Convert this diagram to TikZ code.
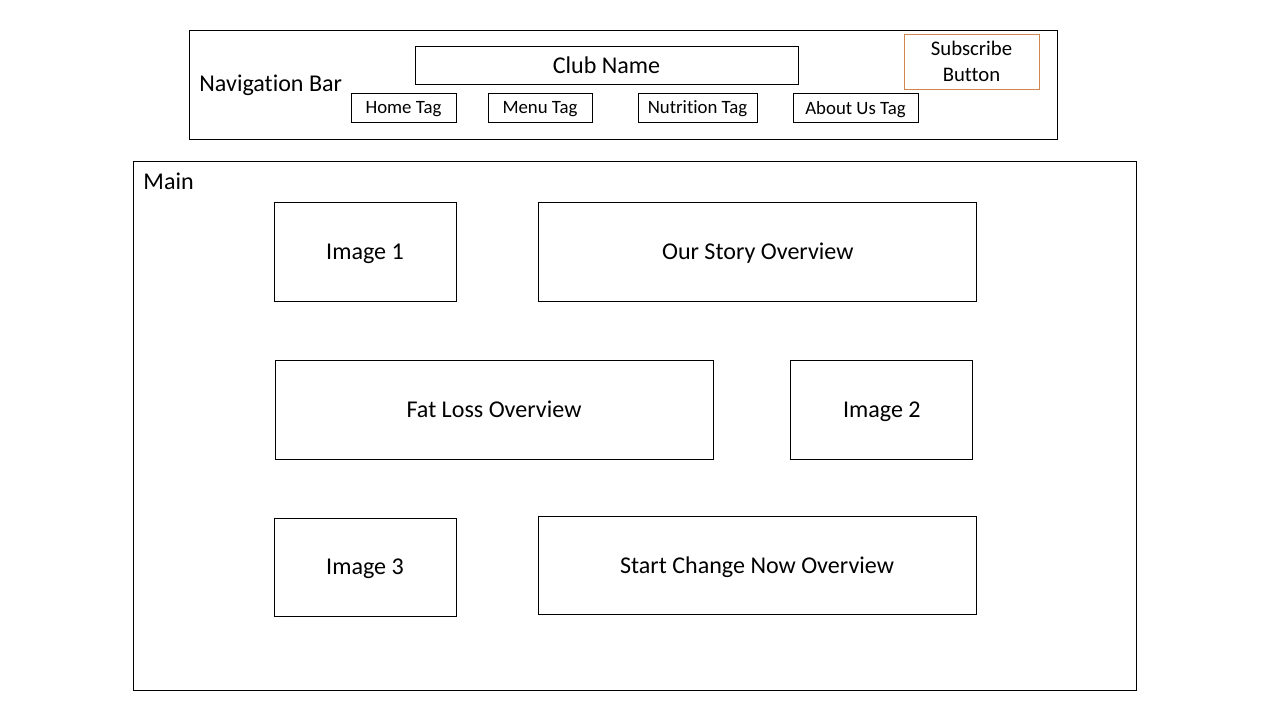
\documentclass[tikz,border=0pt]{standalone}
\usepackage{fontspec}
\setmainfont{Carlito}[Ligatures=NoCommon]
\usetikzlibrary{positioning}
\definecolor{btn_col}{RGB}{210,135,80}

\begin{document}
\begin{tikzpicture}[x=0.02cm, y=-0.02cm, line width=0.5pt,
    every node/.style={align=center, inner sep=0pt},
    tagbox/.style={draw, minimum height=0.58cm, text depth=0pt,
      font=\fontsize{10.7}{13}\selectfont},
    panel/.style={draw, minimum width=3.64cm, minimum height=1.98cm, text depth=0pt,
      font=\fontsize{13.7}{16}\selectfont}]
  \useasboundingbox (0,0) rectangle (1280,720);

  % navigation bar
  \node[draw, minimum width=17.38cm, minimum height=2.18cm] (nav) at (623.5,84.5) {};
  \node[anchor=west, font=\fontsize{13.7}{16}\selectfont] (navlabel) at (199,85) {Navigation Bar};
  \node[draw, minimum width=7.66cm, minimum height=0.76cm, text depth=0pt,
        font=\fontsize{13.7}{16}\selectfont] (club) at (606.5,65) {Club Name};
  \node[draw=btn_col, minimum width=2.7cm, minimum height=1.1cm,
        font=\fontsize{11.8}{14.5}\selectfont] (subscribe) at (971.5,61.5) {Subscribe\\Button};

  \node[tagbox, minimum width=2.1cm] (home) at (403.5,107.5) {Home Tag};
  \node[tagbox, minimum width=2.08cm] (menu) at (540,107.5) {Menu Tag};
  \node[tagbox, minimum width=2.38cm] (nutrition) at (697.5,107.5) {Nutrition Tag};
  \node[tagbox, minimum width=2.5cm] (about) at (855.5,108) {About Us Tag};

  % main area
  \node[draw, minimum width=20.08cm, minimum height=10.58cm] (main) at (635,425.5) {};
  \node[anchor=west, font=\fontsize{13.7}{16}\selectfont] (mainlabel) at (143,181) {Main};

  \node[panel] (img1) at (365,251.5) {Image 1};
  \node[panel, minimum width=8.76cm, right=1.64cm of img1] (story) {Our Story Overview};
  \node[panel, minimum width=8.76cm] (fatloss) at (494,409.5) {Fat Loss Overview};
  \node[panel, right=1.54cm of fatloss] (img2) {Image 2};
  \node[panel, minimum height=1.96cm] (img3) at (365,567) {Image 3};
  \node[panel, minimum width=8.76cm, minimum height=1.96cm] (start) at (757,565) {Start Change Now Overview};
\end{tikzpicture}
\end{document}
